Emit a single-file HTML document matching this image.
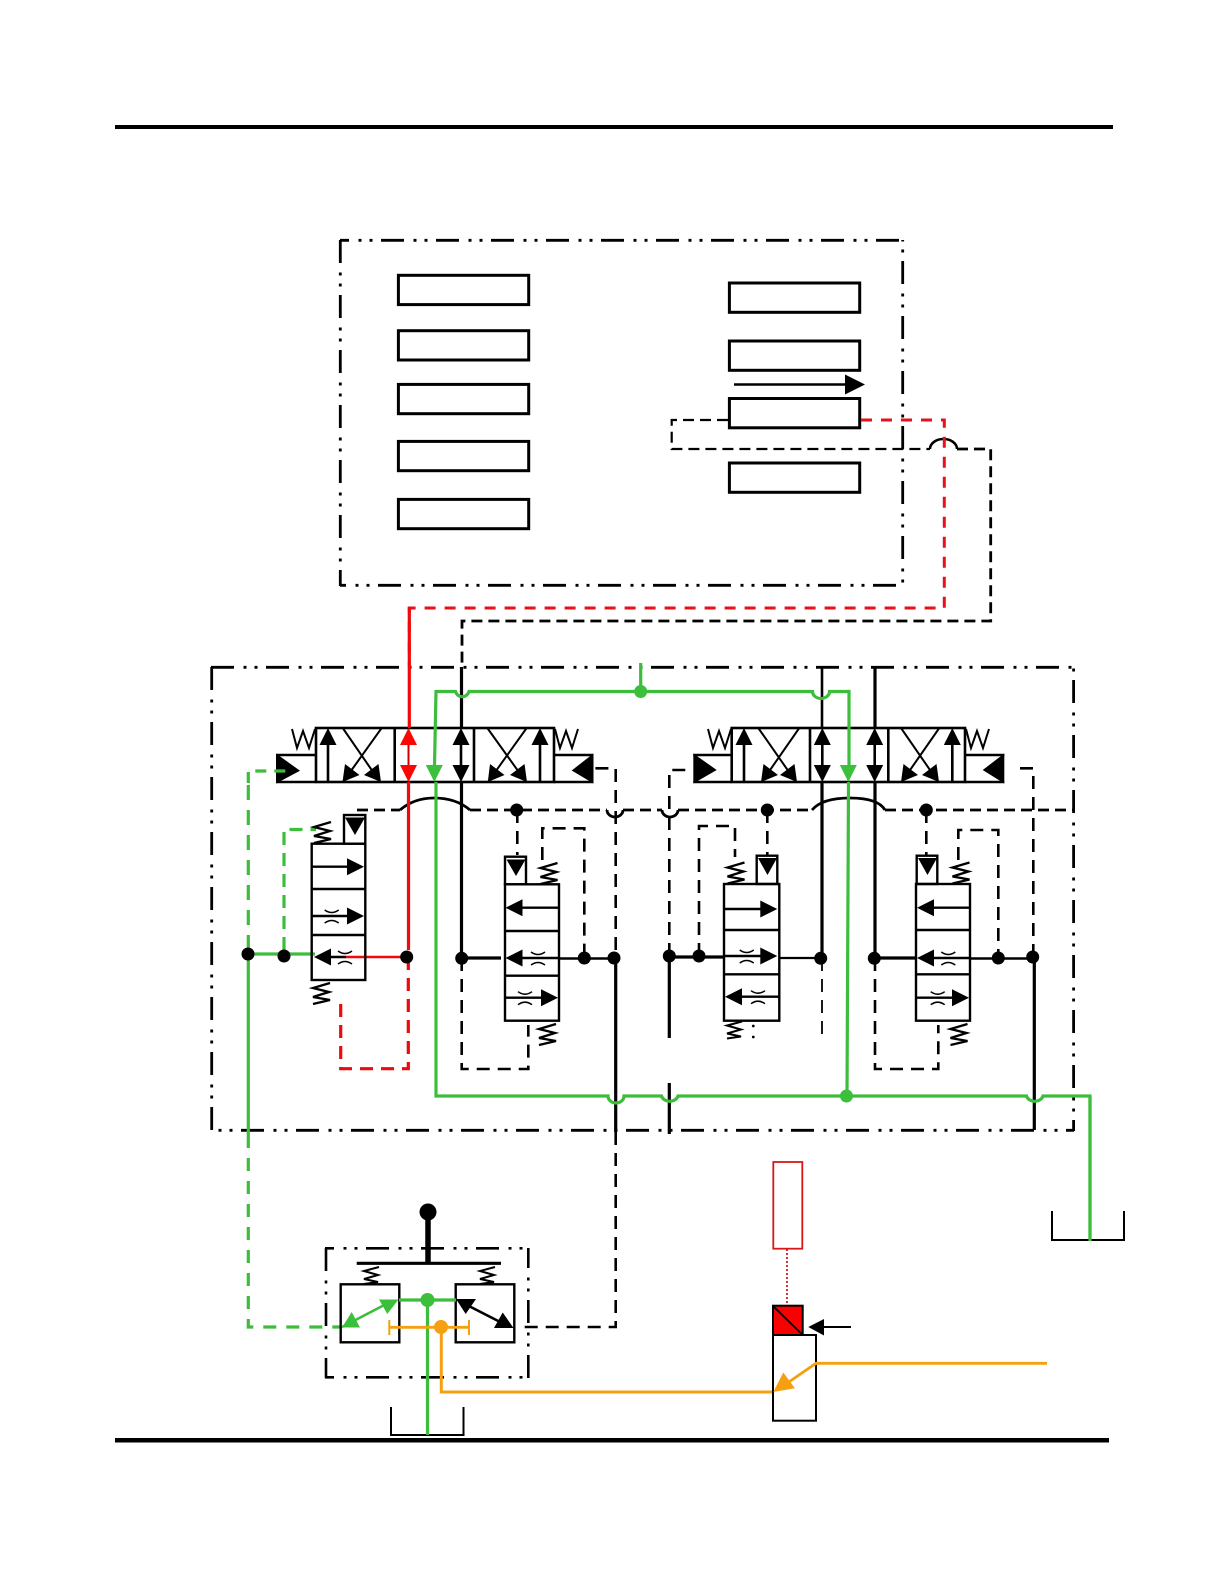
<!DOCTYPE html>
<html><head><meta charset="utf-8"><style>html,body{margin:0;padding:0;background:#fff}svg{display:block}</style></head>
<body>
<svg width="1224" height="1584" viewBox="0 0 1224 1584" xmlns="http://www.w3.org/2000/svg">
<defs>
<path id="u" d="M0 0L8.5 17H-8.5Z"/>
<path id="d" d="M0 0L8.5 -17H-8.5Z"/>
<path id="r" d="M0 0L-17 8.5V-8.5Z"/>
<path id="l" d="M0 0L17 8.5V-8.5Z"/>
<g id="o" fill="none" stroke="#000" stroke-width="1.5"><path d="M-7 -6Q0 -1 7 -6"/><path d="M-7 7Q0 2 7 7"/></g>
<polyline id="spr" fill="none" stroke="#000" stroke-width="2.3" points="18,0 1,5 17,9 1,14 18,17 1,21"/>
<polyline id="sprs" fill="none" stroke="#000" stroke-width="2" points="16,0 1,4 15,8 1,12 15,15 1,17"/>
<polyline id="w" fill="none" stroke="#000" stroke-width="2" points="0,0 5,19 11,2 17,19 23,0"/>
</defs>
<rect width="1224" height="1584" fill="#fff"/>

<!-- page rules -->
<rect x="115" y="125" width="998" height="4" fill="#000"/>
<rect x="115" y="1438" width="994" height="4.5" fill="#000"/>

<!-- top frame -->
<g stroke="#000" stroke-width="2.8" fill="none" stroke-dasharray="23 9.5 3 8 3 8.5">
<line x1="340" y1="240.3" x2="903" y2="240.3" stroke-dashoffset="14"/>
<line x1="340.3" y1="240" x2="340.3" y2="586" />
<line x1="340" y1="585.3" x2="903" y2="585.3" stroke-dashoffset="17"/>
<line x1="902.7" y1="240" x2="902.7" y2="586" stroke-dashoffset="34"/>
</g>
<g stroke="#000" stroke-width="3" fill="#fff">
<rect x="398.4" y="275.3" width="130.3" height="29.3"/>
<rect x="398.4" y="330.7" width="130.3" height="29.3"/>
<rect x="398.4" y="384.4" width="130.3" height="29.3"/>
<rect x="398.4" y="441.4" width="130.3" height="29.3"/>
<rect x="398.4" y="499.4" width="130.3" height="29.3"/>
<rect x="729.4" y="283" width="130.3" height="29.3"/>
<rect x="729.4" y="341" width="130.3" height="29.3"/>
<rect x="729.4" y="398.5" width="130.3" height="29.3"/>
<rect x="729.4" y="463" width="130.3" height="29.3"/>
</g>
<line x1="734" y1="384.5" x2="848" y2="384.5" stroke="#000" stroke-width="2.6"/>
<path d="M865 384.5L845 374.5V394.5Z" fill="#000"/>

<!-- top dashed links -->
<path d="M728 420H671.7V449H930" fill="none" stroke="#000" stroke-width="2.2" stroke-dasharray="11 6"/>
<path d="M957 449H990.7V621H462V667" fill="none" stroke="#000" stroke-width="2.8" stroke-dasharray="11 6"/>
<path d="M930 449A13.5 10 0 0 1 957 449" fill="none" stroke="#000" stroke-width="2.6"/>
<path d="M861 420H944.3V608H409.3V667" fill="none" stroke="#e8101a" stroke-width="3" stroke-dasharray="11 9"/>

<!-- main frame -->
<g stroke="#000" stroke-width="2.8" fill="none" stroke-dasharray="23 9.5 3 8 3 8.5">
<line x1="211" y1="667.3" x2="1074" y2="667.3"/>
<line x1="211.7" y1="667" x2="211.7" y2="1131"/>
<line x1="211" y1="1130.3" x2="1074" y2="1130.3" stroke-dashoffset="25"/>
<line x1="1073.6" y1="667" x2="1073.6" y2="1131" stroke-dashoffset="42"/>
</g>

<!-- pilot dashed line y=810 -->
<g fill="none" stroke="#000" stroke-width="2.8">
<path d="M357 810H400" stroke-dasharray="11 6"/>
<path d="M400 810Q414 798 434 798Q456 798 470 810"/>
<path d="M470 810H607" stroke-dasharray="11 6"/>
<path d="M607 810A8 7 0 0 0 623 810"/>
<path d="M623 810H662" stroke-dasharray="11 6"/>
<path d="M662 810A8 7 0 0 0 678 810"/>
<path d="M678 810H812" stroke-dasharray="11 6"/>
<path d="M812 810Q822 798 850 798Q878 798 885 810"/>
<path d="M885 810H1073" stroke-dasharray="11 6"/>
</g>

<!-- black pipes -->
<g fill="none" stroke="#000" stroke-width="3.2">
<path d="M461.5 667V728M461.5 782V958H501"/>
<path d="M559 958.5H615.7" stroke-width="2.4"/>
<path d="M615.7 958V1132"/>
<path d="M822 667V728" stroke-width="2.6"/>
<path d="M875 667V728"/>
<path d="M822 782V958" />
<path d="M779 958H822" stroke-width="2.2"/>
<path d="M875 782V958H916"/>
<path d="M669.3 956V1038M669.3 1083V1134"/>
<path d="M669.3 957H724"/>
<path d="M970 958.5H1033" stroke-width="2.4"/>
<path d="M1034.3 957V1130"/>
</g>
<g fill="none" stroke="#000" stroke-width="2.6" stroke-dasharray="13 8">
<path d="M461.7 958V1069H528.3V1025"/>
<path d="M517.3 810V855"/>
<path d="M542.3 860V828.3H584.3V958"/>
<path d="M615.7 950V768.3H593"/>
<path d="M615.7 1132V1327H523"/>
<path d="M822 958V1038" stroke-width="1.8"/>
<path d="M875 958V1069H938.3V1025"/>
<path d="M669.3 956V770H687"/>
<path d="M699 956V826H735V857"/>
<path d="M767.3 810V855"/>
<path d="M926.3 810V855"/>
<path d="M958.3 860V830H998.3V958"/>
<path d="M1033.3 957V768.3H1013"/>
</g>
<circle cx="753.3" cy="1026" r="1.4"/><circle cx="753.3" cy="1037" r="1.4"/>

<!-- main valve left -->
<g fill="none" stroke="#000" stroke-width="2.6">
<rect x="316" y="728" width="238" height="54"/>
<path d="M394.7 728V782M474 728V782"/>
<path d="M276 755H316M276 782H316M554 755H593.5M554 782H593.5"/>
<path d="M328 744V782M540 744V782"/>
<path d="M342.7 728L380 782M381.7 728L343 782M487.3 728L526 782M526.7 728L488 782" stroke-width="2"/>
<path d="M461 744V766"/>
</g>
<g fill="#000">
<path d="M276 753.5L300 770.7L276 783.5Z"/>
<path d="M593.5 753.5L571.7 770.5L593.5 783.5Z"/>
<use href="#u" x="328" y="728"/><use href="#u" x="540" y="728"/>
<use href="#u" x="461" y="728"/><use href="#d" x="461" y="782"/>
<path d="M342.5 782L345 764L359.5 775ZM381 782L378.5 764L364 775ZM487.8 782L490 764L504.5 775ZM527 782L524.5 764L510 775Z"/>
</g>
<use href="#w" x="292" y="729"/><use href="#w" x="555" y="729"/>

<!-- main valve right -->
<g fill="none" stroke="#000" stroke-width="2.6">
<rect x="731.7" y="728" width="233.3" height="54"/>
<path d="M810 728V782M888.3 728V782"/>
<path d="M693.3 755H731.7M693.3 782H731.7M965 755H1004.3M965 782H1004.3"/>
<path d="M744 744V782M952.3 744V782"/>
<path d="M758.3 728L796 782M799.3 728L761.7 782M901 728L938.3 782M939.3 728L901.7 782" stroke-width="2"/>
<path d="M822.3 744V766M874.7 744V766"/>
</g>
<g fill="#000">
<path d="M693.3 753.5L716.7 770L693.3 783.5Z"/>
<path d="M1004.3 753.5L982.7 770L1004.3 783.5Z"/>
<use href="#u" x="744" y="728"/><use href="#u" x="952.3" y="728"/>
<use href="#u" x="822.3" y="728"/><use href="#d" x="822.3" y="782"/>
<use href="#u" x="874.7" y="728"/><use href="#d" x="874.7" y="782"/>
<path d="M761 782L763.5 764L778 775ZM797 782L794.5 764L780 775ZM901 782L903.5 764L918 775ZM939 782L936.5 764L922 775Z"/>
</g>
<use href="#w" x="708" y="729"/><use href="#w" x="966" y="729"/>

<!-- green pipes -->
<g fill="none" stroke="#3cbd3c" stroke-width="3.2">
<path d="M640.7 663V691.5"/>
<path d="M434.5 766L436 691.5H455.5A7 7 0 0 0 469 691.5H812.5A8.5 7 0 0 0 829.5 691.5H849V766"/>
<path d="M848.5 782L847 1096"/>
<path d="M436 782V1096H608A8 7 0 0 0 624 1096H661.5A8.5 7 0 0 0 678 1096H1026.5A8.5 7 0 0 0 1043 1096H1090V1241"/>
<path d="M248.3 954V1135"/>
<path d="M248 954H315"/>
<path d="M248.3 1135V1327H342" stroke-dasharray="13 10"/>
<path d="M248.3 950V783" stroke-dasharray="15 10"/>
<path d="M248.3 783V771H290" stroke-dasharray="11 8"/>
<path d="M284 950V829.5H316" stroke-dasharray="13 8"/>
</g>
<g fill="#3cc03c">
<circle cx="640.7" cy="691.5" r="6.5"/>
<circle cx="846.5" cy="1096" r="6.5"/>
<use href="#d" x="434.3" y="782"/>
<use href="#d" x="848.3" y="782"/>
</g>

<!-- red -->
<g fill="none" stroke="#ee0a0a" stroke-width="3.2">
<path d="M409.3 607V728"/>
<path d="M408.5 744V766" stroke-width="2" stroke="#c00"/>
<path d="M408.5 782V950"/>
<path d="M346 957H406" stroke-width="2.4"/>
<path d="M408.3 957V1068.7H340.7V996" stroke-dasharray="13 8"/>
</g>
<g fill="#fb0505">
<use href="#u" x="408.5" y="728"/>
<use href="#d" x="408.5" y="782"/>
</g>

<!-- valve A -->
<g fill="none" stroke="#000" stroke-width="2.4">
<rect x="311.7" y="843.7" width="53.6" height="136.3" fill="none"/>
<path d="M311.7 889H365.3M311.7 935H365.3"/>
<rect x="344" y="815" width="21.3" height="28.7"/>
<path d="M312 866.7H350M312 916H350M328 957H346"/>
</g>
<g fill="#000">
<path d="M345 817.5H365L355 835Z"/>
<use href="#r" x="364" y="866.7"/><use href="#r" x="364" y="916"/><use href="#l" x="314" y="957"/>
</g>
<use href="#o" x="331.7" y="916"/><use href="#o" x="345" y="957"/>
<use href="#spr" x="313" y="822"/><use href="#spr" x="312" y="983"/>

<!-- valve B -->
<g fill="none" stroke="#000" stroke-width="2.4">
<rect x="505" y="884.3" width="54" height="136.4"/>
<path d="M505 931H559M505 975.7H559"/>
<rect x="505" y="856.7" width="21" height="27.6"/>
<path d="M520 907.7H559M520 958H559M505 997.7H543"/>
</g>
<g fill="#000">
<path d="M506.5 859.5H525.5L516 876Z"/>
<use href="#l" x="505.5" y="907.7"/><use href="#l" x="505.5" y="958"/><use href="#r" x="558" y="997.7"/>
</g>
<use href="#o" x="538" y="958"/><use href="#o" x="525" y="997.7"/>
<use href="#spr" x="539.5" y="863"/><use href="#spr" x="538" y="1024"/>

<!-- valve C -->
<g fill="none" stroke="#000" stroke-width="2.4">
<rect x="724" y="884" width="55.3" height="136.7"/>
<path d="M724 930H779.3M724 974.3H779.3"/>
<rect x="756.7" y="855.7" width="20.6" height="28.3"/>
<path d="M724 909H763M724 956H763M739 996.7H779"/>
</g>
<g fill="#000">
<path d="M758 858H777L767.5 875Z"/>
<use href="#r" x="777.3" y="909"/><use href="#r" x="777.3" y="956"/><use href="#l" x="725" y="996.7"/>
</g>
<use href="#o" x="746.7" y="956"/><use href="#o" x="758" y="996.7"/>
<use href="#spr" x="726.5" y="862.5"/><use href="#sprs" x="726" y="1021.5"/>

<!-- valve D -->
<g fill="none" stroke="#000" stroke-width="2.4">
<rect x="916" y="884" width="54" height="136.7"/>
<path d="M916 930H970M916 974.3H970"/>
<rect x="916.7" y="855.7" width="20.6" height="28.3"/>
<path d="M931 907.7H970M931 958H970M916 997.7H955"/>
</g>
<g fill="#000">
<path d="M918 858H937L927.5 875Z"/>
<use href="#l" x="917" y="907.7"/><use href="#l" x="917" y="958"/><use href="#r" x="969" y="997.7"/>
</g>
<use href="#o" x="948.3" y="958"/><use href="#o" x="937.7" y="997.7"/>
<use href="#spr" x="951.5" y="862.5"/><use href="#spr" x="949.5" y="1024"/>

<!-- junction dots -->
<g fill="#000">
<circle cx="248" cy="954" r="6.5"/><circle cx="284" cy="956" r="6.5"/><circle cx="406.7" cy="957" r="6.5"/>
<circle cx="461.7" cy="958.3" r="6.5"/><circle cx="584.3" cy="958" r="6.5"/><circle cx="614" cy="958" r="6.5"/>
<circle cx="669.3" cy="956" r="6.5"/><circle cx="699" cy="956" r="6.5"/><circle cx="820.7" cy="958.3" r="6.5"/>
<circle cx="874.3" cy="958.3" r="6.5"/><circle cx="998.3" cy="958" r="6.5"/><circle cx="1032.7" cy="957" r="6.5"/>
<circle cx="516.7" cy="810" r="6.5"/><circle cx="767.3" cy="810" r="6.5"/><circle cx="926.3" cy="810" r="6.5"/>
</g>

<!-- tank right -->
<path d="M1052 1211V1240H1124V1211" fill="none" stroke="#000" stroke-width="2"/>
<path d="M1090 1096V1241" fill="none" stroke="#3cbd3c" stroke-width="3.2"/>

<!-- lever valve -->
<g stroke="#000" stroke-width="2.6" fill="none" stroke-dasharray="23 9.5 3 8 3 8.5">
<line x1="325" y1="1248.3" x2="529" y2="1248.3" stroke-dashoffset="14"/>
<line x1="326" y1="1248" x2="326" y2="1378"/>
<line x1="325" y1="1377.3" x2="529" y2="1377.3" stroke-dashoffset="14"/>
<line x1="528.3" y1="1248" x2="528.3" y2="1378" stroke-dashoffset="3"/>
</g>
<line x1="356.7" y1="1263.3" x2="501" y2="1263.3" stroke="#000" stroke-width="3.2"/>
<line x1="428" y1="1212" x2="428" y2="1263" stroke="#000" stroke-width="5.5"/>
<circle cx="428" cy="1212" r="8.5" fill="#000"/>
<use href="#sprs" x="363" y="1267"/><use href="#sprs" x="479" y="1267"/>
<g fill="none" stroke="#000" stroke-width="2.4">
<rect x="340.7" y="1284.3" width="58.6" height="58"/>
<rect x="455.7" y="1284.3" width="58.6" height="58"/>
<path d="M463 1303L506 1325" stroke-width="2.6"/>
</g>
<path d="M456 1299H476L465.7 1314ZM513.5 1328H494L502.7 1312.5Z" fill="#000"/>
<path d="M399 1300H456M427.5 1300V1435" fill="none" stroke="#3cbd3c" stroke-width="3.2"/>
<circle cx="427.5" cy="1300" r="7" fill="#3cc03c"/>
<path d="M342 1327L392 1301" stroke="#3cbd3c" stroke-width="2.6"/>
<path d="M342 1327.5L351.7 1312L360 1327.5ZM398.5 1299.5H379L387.3 1314Z" fill="#3cc03c"/>

<!-- orange -->
<g fill="none" stroke="#f5a010" stroke-width="2.8">
<path d="M389.3 1327.3H469"/>
<path d="M389.3 1320V1335M469 1320V1335" stroke-width="2"/>
<path d="M441.3 1327V1392H774" stroke-width="3"/>
</g>
<circle cx="441" cy="1327" r="7" fill="#f5a010"/>

<!-- tank bottom -->
<path d="M391 1407V1435H463.5V1407" fill="none" stroke="#000" stroke-width="2"/>
<path d="M427.5 1380V1435" fill="none" stroke="#3cbd3c" stroke-width="2.8"/>

<!-- red box + actuator -->
<rect x="773.3" y="1162" width="29" height="86.7" fill="#fff" stroke="#d81818" stroke-width="1.8"/>
<line x1="787" y1="1249" x2="787" y2="1306" stroke="#d81818" stroke-width="1.8" stroke-dasharray="2 2"/>
<rect x="773" y="1335" width="43" height="85.7" fill="#fff" stroke="#000" stroke-width="2"/>
<rect x="773" y="1305.7" width="29.7" height="29.3" fill="#fb0000" stroke="#000" stroke-width="2"/>
<line x1="773" y1="1306" x2="802.7" y2="1335" stroke="#000" stroke-width="1.8"/>
<line x1="823" y1="1327" x2="851" y2="1327" stroke="#000" stroke-width="2"/>
<path d="M808.3 1327L824 1319V1335.5Z" fill="#000"/>
<path d="M1047 1363.3H816L783 1386" fill="none" stroke="#f5a010" stroke-width="2.8"/>
<path d="M773.3 1392L783.3 1372.5L795 1388.3Z" fill="#f5a010"/>
</svg>
</body></html>
